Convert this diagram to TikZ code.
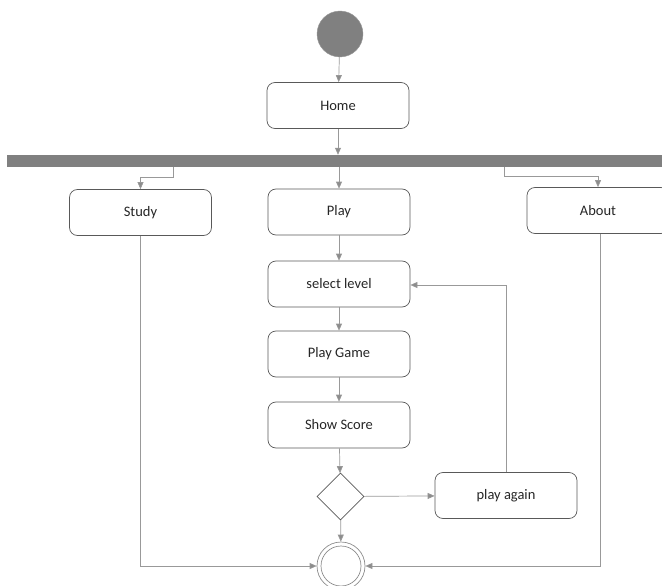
\documentclass[tikz,border=0pt]{standalone}
\usepackage{fontspec}
\setmainfont{Carlito}
\usetikzlibrary{arrows.meta,shapes.geometric}
\begin{document}
\begin{tikzpicture}[x=1pt,y=-1pt,
  act/.style={draw=black!65, line width=0.7pt, rounded corners=8pt, minimum width=142pt, minimum height=46pt, inner sep=0pt, font=\fontsize{14.5}{16}\selectfont, text=black!85},
  flow/.style={draw=black!40, line width=0.7pt, -{Triangle[length=7pt,width=6pt,fill=black!45]}},
]
\useasboundingbox (0,0) rectangle (662,586);
\begin{scope}
\clip (0,0) rectangle (662,586);
% initial
\node[circle, fill=black!50, draw=black!40, minimum size=46pt, inner sep=0pt] (init) at (340,34) {};
\node[act] (home) at (338,105.5) {Home};
% fork bar
\node[rectangle, fill=black!50, minimum width=670pt, minimum height=12pt, inner sep=0pt, anchor=west] (bar) at (7,161) {};
\coordinate (barS) at (173,167);
\coordinate (barA) at (504,167);
\node[act] (study) at (140.5,212.5) {Study};
\node[act] (play) at (339,212) {Play};
\node[act] (about) at (598,210.5) {About};
\coordinate (aboutB) at (600,233.5);
\node[act] (sel) at (339,284) {select level};
\node[act] (game) at (339,354) {Play Game};
\node[act] (score) at (339,425) {Show Score};
\node[diamond, draw=black!65, line width=0.7pt, minimum width=47pt, minimum height=47pt, inner sep=0pt] (dec) at (340.5,496.5) {};
\node[act] (again) at (506,495.5) {play again};
\node[circle, draw=black!45, line width=0.7pt, minimum size=48pt, inner sep=0pt] (final) at (341,566) {};
\node[circle, draw=black!45, line width=0.7pt, minimum size=40pt, inner sep=0pt] at (final) {};
% connectors
\draw[flow] (init) -- (home);
\draw[flow] (home) -- (home |- bar.north);
\draw[flow] (barS) -- (173,177.5) -- (140.5,177.5) -- (study.north);
\draw[flow] (play |- bar.south) -- (play);
\draw[flow] (barA) -- (504,176) -- (598,176) -- (about.north);
\draw[flow] (play) -- (sel);
\draw[flow] (sel) -- (game);
\draw[flow] (game) -- (score);
\draw[flow] (score) -- (dec);
\draw[flow] (dec) -- (final);
\draw[flow] (dec) -- (again);
\draw[flow] (again.north) -- (506,285) -- (sel.east |- 0,285);
\draw[flow] (study.south) -- (140.5,566) -- (final.west);
\draw[flow] (aboutB) -- (600,566) -- (final.east);
\end{scope}
\end{tikzpicture}
\end{document}
